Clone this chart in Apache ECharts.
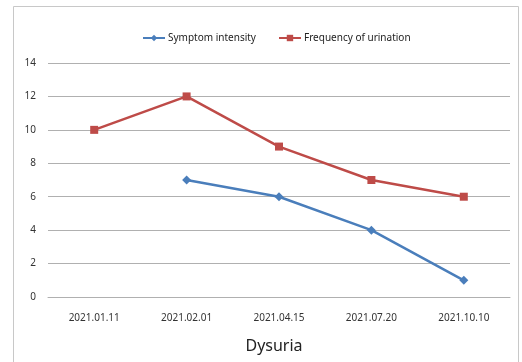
<!DOCTYPE html>
<html>
<head>
<meta charset="utf-8">
<script src="https://cdn.jsdelivr.net/npm/echarts@6/dist/echarts.min.js"></script>
<style>
  html, body { margin: 0; padding: 0; background: #fff; }
  #chart { width: 522px; height: 362px; }
</style>
</head>
<body>
<div id="chart"></div>
<script>
// Visit dates and recorded values
const visitDates = ['2021.01.11', '2021.02.01', '2021.04.15', '2021.07.20', '2021.10.10'];
const symptomIntensity = [null, 7, 6, 4, 1];
const urinationFrequency = [10, 12, 9, 7, 6];
const yTicks = { min: 0, max: 14, interval: 2 };

const BLUE = '#4a7ebb';
const RED = '#be4b48';
const FONT = '"Noto Sans", "Open Sans", sans-serif';

const chart = echarts.init(document.getElementById('chart'), null, { renderer: 'canvas' });
chart.setOption({
  animation: false,
  backgroundColor: '#fff',
  textStyle: { fontFamily: FONT },
  graphic: [{
    type: 'rect',
    shape: { x: 13.5, y: 6.5, width: 505, height: 360 },
    style: { fill: 'none', stroke: '#c8c8c8', lineWidth: 1 },
    silent: true
  }],
  title: {
    text: 'Dysuria',
    left: 269, top: 333, textAlign: 'center',
    textStyle: { fontFamily: FONT, fontSize: 16, fontWeight: 'normal', color: '#222' }
  },
  legend: {
    top: 28, left: 137,
    itemWidth: 22, itemHeight: 8, itemGap: 22,
    textStyle: { fontFamily: FONT, fontSize: 10, color: '#222', padding: [0, 0, 0, -2] },
    data: ['Symptom intensity', 'Frequency of urination']
  },
  grid: { left: 48, right: 12, top: 63, bottom: 65, containLabel: false },
  xAxis: {
    type: 'category',
    data: visitDates,
    boundaryGap: true,
    axisLine: { show: true, lineStyle: { color: '#b0b0b0', width: 1 } },
    axisTick: { show: false },
    axisLabel: { fontFamily: FONT, fontSize: 10, color: '#333', margin: 16 }
  },
  yAxis: {
    type: 'value',
    min: yTicks.min, max: yTicks.max, interval: yTicks.interval,
    axisLine: { show: false },
    axisTick: { show: false },
    axisLabel: { fontFamily: FONT, fontSize: 10, color: '#333', margin: 12 },
    splitLine: { lineStyle: { color: '#b0b0b0', width: 1 } }
  },
  series: [
    {
      name: 'Symptom intensity',
      type: 'line',
      data: symptomIntensity,
      connectNulls: false,
      color: BLUE,
      lineStyle: { color: BLUE, width: 2.5 },
      symbol: 'diamond',
      symbolSize: 9,
      itemStyle: { color: BLUE }
    },
    {
      name: 'Frequency of urination',
      type: 'line',
      data: urinationFrequency,
      color: RED,
      lineStyle: { color: RED, width: 2.5 },
      symbol: 'rect',
      symbolSize: 8,
      itemStyle: { color: RED }
    }
  ]
});
</script>
</body>
</html>
